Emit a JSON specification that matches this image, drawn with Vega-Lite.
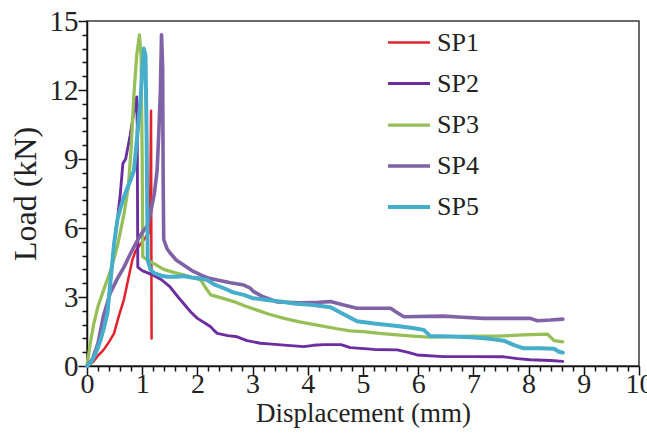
{
  "$schema": "https://vega.github.io/schema/vega-lite/v6.json",
  "autosize": "none",
  "width": 552,
  "height": 345,
  "padding": {"left": 87, "top": 21, "right": 8, "bottom": 73},
  "background": "white",
  "config": {
    "view": {"stroke": "#3a3a3a", "strokeWidth": 1.5},
    "font": "Liberation Serif"
  },
  "datasets": {
    "curves": [
      {"s":"SP1","i":1,"x":0,"y":0},{"s":"SP1","i":2,"x":0.1,"y":0.15},{"s":"SP1","i":3,"x":0.2,"y":0.45},{"s":"SP1","i":4,"x":0.3,"y":0.7},{"s":"SP1","i":5,"x":0.4,"y":1.05},{"s":"SP1","i":6,"x":0.49,"y":1.42},{"s":"SP1","i":7,"x":0.58,"y":2.2},{"s":"SP1","i":8,"x":0.67,"y":2.9},{"s":"SP1","i":9,"x":0.75,"y":3.8},{"s":"SP1","i":10,"x":0.82,"y":4.6},{"s":"SP1","i":11,"x":0.88,"y":5.0},{"s":"SP1","i":12,"x":1.0,"y":5.4},{"s":"SP1","i":13,"x":1.13,"y":5.8},{"s":"SP1","i":14,"x":1.15,"y":8},{"s":"SP1","i":15,"x":1.16,"y":11.1},{"s":"SP1","i":16,"x":1.17,"y":1.2},

      {"s":"SP2","i":1,"x":0,"y":0},{"s":"SP2","i":2,"x":0.1,"y":0.25},{"s":"SP2","i":3,"x":0.2,"y":0.8},{"s":"SP2","i":4,"x":0.3,"y":1.6},{"s":"SP2","i":5,"x":0.37,"y":2.3},{"s":"SP2","i":6,"x":0.43,"y":3.8},{"s":"SP2","i":7,"x":0.49,"y":5.3},{"s":"SP2","i":8,"x":0.55,"y":6.35},{"s":"SP2","i":9,"x":0.6,"y":7.4},{"s":"SP2","i":10,"x":0.65,"y":8.8},{"s":"SP2","i":11,"x":0.7,"y":9.0},{"s":"SP2","i":12,"x":0.78,"y":10.0},{"s":"SP2","i":13,"x":0.86,"y":11.2},{"s":"SP2","i":14,"x":0.9,"y":11.7},{"s":"SP2","i":15,"x":0.91,"y":10.5},{"s":"SP2","i":16,"x":0.92,"y":4.3},{"s":"SP2","i":17,"x":1.0,"y":4.15},{"s":"SP2","i":18,"x":1.2,"y":3.95},{"s":"SP2","i":19,"x":1.35,"y":3.75},{"s":"SP2","i":20,"x":1.5,"y":3.45},{"s":"SP2","i":21,"x":1.65,"y":3.0},{"s":"SP2","i":22,"x":1.75,"y":2.72},{"s":"SP2","i":23,"x":1.88,"y":2.35},{"s":"SP2","i":24,"x":2.0,"y":2.07},{"s":"SP2","i":25,"x":2.15,"y":1.85},{"s":"SP2","i":26,"x":2.24,"y":1.71},{"s":"SP2","i":27,"x":2.3,"y":1.55},{"s":"SP2","i":28,"x":2.36,"y":1.42},{"s":"SP2","i":29,"x":2.55,"y":1.32},{"s":"SP2","i":30,"x":2.72,"y":1.27},{"s":"SP2","i":31,"x":2.9,"y":1.1},{"s":"SP2","i":32,"x":3.14,"y":0.99},{"s":"SP2","i":33,"x":3.35,"y":0.95},{"s":"SP2","i":34,"x":3.57,"y":0.91},{"s":"SP2","i":35,"x":3.93,"y":0.84},{"s":"SP2","i":36,"x":4.1,"y":0.9},{"s":"SP2","i":37,"x":4.29,"y":0.93},{"s":"SP2","i":38,"x":4.6,"y":0.93},{"s":"SP2","i":39,"x":4.77,"y":0.8},{"s":"SP2","i":40,"x":5.2,"y":0.72},{"s":"SP2","i":41,"x":5.62,"y":0.7},{"s":"SP2","i":42,"x":5.8,"y":0.6},{"s":"SP2","i":43,"x":5.98,"y":0.48},{"s":"SP2","i":44,"x":6.46,"y":0.41},{"s":"SP2","i":45,"x":7.0,"y":0.41},{"s":"SP2","i":46,"x":7.55,"y":0.4},{"s":"SP2","i":47,"x":7.8,"y":0.32},{"s":"SP2","i":48,"x":8.03,"y":0.27},{"s":"SP2","i":49,"x":8.4,"y":0.24},{"s":"SP2","i":50,"x":8.62,"y":0.2},

      {"s":"SP3","i":1,"x":0,"y":0},{"s":"SP3","i":2,"x":0.06,"y":1.0},{"s":"SP3","i":3,"x":0.12,"y":1.8},{"s":"SP3","i":4,"x":0.2,"y":2.6},{"s":"SP3","i":5,"x":0.3,"y":3.3},{"s":"SP3","i":6,"x":0.43,"y":4.17},{"s":"SP3","i":7,"x":0.55,"y":5.2},{"s":"SP3","i":8,"x":0.67,"y":6.6},{"s":"SP3","i":9,"x":0.75,"y":7.8},{"s":"SP3","i":10,"x":0.8,"y":9.5},{"s":"SP3","i":11,"x":0.85,"y":11.8},{"s":"SP3","i":12,"x":0.9,"y":13.5},{"s":"SP3","i":13,"x":0.95,"y":14.4},{"s":"SP3","i":14,"x":0.98,"y":13.5},{"s":"SP3","i":15,"x":1.0,"y":9},{"s":"SP3","i":16,"x":1.01,"y":4.75},{"s":"SP3","i":17,"x":1.1,"y":4.6},{"s":"SP3","i":18,"x":1.25,"y":4.4},{"s":"SP3","i":19,"x":1.39,"y":4.2},{"s":"SP3","i":20,"x":1.6,"y":4.05},{"s":"SP3","i":21,"x":1.75,"y":3.96},{"s":"SP3","i":22,"x":1.9,"y":3.85},{"s":"SP3","i":23,"x":2.06,"y":3.74},{"s":"SP3","i":24,"x":2.15,"y":3.4},{"s":"SP3","i":25,"x":2.24,"y":3.09},{"s":"SP3","i":26,"x":2.45,"y":2.95},{"s":"SP3","i":27,"x":2.66,"y":2.8},{"s":"SP3","i":28,"x":2.85,"y":2.62},{"s":"SP3","i":29,"x":3.08,"y":2.43},{"s":"SP3","i":30,"x":3.3,"y":2.25},{"s":"SP3","i":31,"x":3.57,"y":2.07},{"s":"SP3","i":32,"x":3.85,"y":1.92},{"s":"SP3","i":33,"x":4.17,"y":1.78},{"s":"SP3","i":34,"x":4.53,"y":1.62},{"s":"SP3","i":35,"x":4.77,"y":1.53},{"s":"SP3","i":36,"x":5.01,"y":1.49},{"s":"SP3","i":37,"x":5.3,"y":1.42},{"s":"SP3","i":38,"x":5.62,"y":1.35},{"s":"SP3","i":39,"x":5.9,"y":1.3},{"s":"SP3","i":40,"x":6.22,"y":1.25},{"s":"SP3","i":41,"x":6.6,"y":1.28},{"s":"SP3","i":42,"x":7.0,"y":1.3},{"s":"SP3","i":43,"x":7.43,"y":1.3},{"s":"SP3","i":44,"x":7.9,"y":1.35},{"s":"SP3","i":45,"x":8.34,"y":1.39},{"s":"SP3","i":46,"x":8.42,"y":1.2},{"s":"SP3","i":47,"x":8.46,"y":1.1},{"s":"SP3","i":48,"x":8.62,"y":1.05},

      {"s":"SP4","i":1,"x":0,"y":0},{"s":"SP4","i":2,"x":0.1,"y":0.3},{"s":"SP4","i":3,"x":0.2,"y":1.0},{"s":"SP4","i":4,"x":0.3,"y":2.2},{"s":"SP4","i":5,"x":0.42,"y":3.16},{"s":"SP4","i":6,"x":0.55,"y":3.8},{"s":"SP4","i":7,"x":0.67,"y":4.3},{"s":"SP4","i":8,"x":0.79,"y":4.9},{"s":"SP4","i":9,"x":0.9,"y":5.4},{"s":"SP4","i":10,"x":1.0,"y":5.8},{"s":"SP4","i":11,"x":1.09,"y":6.1},{"s":"SP4","i":12,"x":1.15,"y":6.64},{"s":"SP4","i":13,"x":1.22,"y":7.5},{"s":"SP4","i":14,"x":1.27,"y":8.5},{"s":"SP4","i":15,"x":1.3,"y":10.1},{"s":"SP4","i":16,"x":1.33,"y":12},{"s":"SP4","i":17,"x":1.35,"y":14.4},{"s":"SP4","i":18,"x":1.37,"y":13},{"s":"SP4","i":19,"x":1.38,"y":8},{"s":"SP4","i":20,"x":1.39,"y":5.5},{"s":"SP4","i":21,"x":1.45,"y":5.1},{"s":"SP4","i":22,"x":1.51,"y":4.9},{"s":"SP4","i":23,"x":1.62,"y":4.6},{"s":"SP4","i":24,"x":1.75,"y":4.39},{"s":"SP4","i":25,"x":1.9,"y":4.15},{"s":"SP4","i":26,"x":2.06,"y":3.96},{"s":"SP4","i":27,"x":2.2,"y":3.82},{"s":"SP4","i":28,"x":2.36,"y":3.74},{"s":"SP4","i":29,"x":2.6,"y":3.62},{"s":"SP4","i":30,"x":2.84,"y":3.52},{"s":"SP4","i":31,"x":2.95,"y":3.4},{"s":"SP4","i":32,"x":3.02,"y":3.23},{"s":"SP4","i":33,"x":3.2,"y":3.0},{"s":"SP4","i":34,"x":3.45,"y":2.78},{"s":"SP4","i":35,"x":3.87,"y":2.75},{"s":"SP4","i":36,"x":4.2,"y":2.77},{"s":"SP4","i":37,"x":4.41,"y":2.8},{"s":"SP4","i":38,"x":4.65,"y":2.65},{"s":"SP4","i":39,"x":4.89,"y":2.51},{"s":"SP4","i":40,"x":5.5,"y":2.51},{"s":"SP4","i":41,"x":5.6,"y":2.35},{"s":"SP4","i":42,"x":5.74,"y":2.14},{"s":"SP4","i":43,"x":6.46,"y":2.17},{"s":"SP4","i":44,"x":6.8,"y":2.12},{"s":"SP4","i":45,"x":7.19,"y":2.07},{"s":"SP4","i":46,"x":8.03,"y":2.07},{"s":"SP4","i":47,"x":8.16,"y":1.97},{"s":"SP4","i":48,"x":8.4,"y":2.0},{"s":"SP4","i":49,"x":8.62,"y":2.04},

      {"s":"SP5","i":1,"x":0,"y":0},{"s":"SP5","i":2,"x":0.063,"y":0.13},{"s":"SP5","i":3,"x":0.15,"y":0.5},{"s":"SP5","i":4,"x":0.245,"y":1.13},{"s":"SP5","i":5,"x":0.3,"y":1.6},{"s":"SP5","i":6,"x":0.37,"y":2.3},{"s":"SP5","i":7,"x":0.43,"y":3.8},{"s":"SP5","i":8,"x":0.49,"y":5.3},{"s":"SP5","i":9,"x":0.55,"y":6.35},{"s":"SP5","i":10,"x":0.61,"y":6.9},{"s":"SP5","i":11,"x":0.67,"y":7.36},{"s":"SP5","i":12,"x":0.79,"y":8.1},{"s":"SP5","i":13,"x":0.85,"y":8.5},{"s":"SP5","i":14,"x":0.91,"y":10.0},{"s":"SP5","i":15,"x":0.97,"y":11.6},{"s":"SP5","i":16,"x":1.0,"y":12.8},{"s":"SP5","i":17,"x":1.03,"y":13.8},{"s":"SP5","i":18,"x":1.06,"y":13.5},{"s":"SP5","i":19,"x":1.08,"y":10},{"s":"SP5","i":20,"x":1.1,"y":4.6},{"s":"SP5","i":21,"x":1.15,"y":4.2},{"s":"SP5","i":22,"x":1.21,"y":4.05},{"s":"SP5","i":23,"x":1.35,"y":3.92},{"s":"SP5","i":24,"x":1.45,"y":3.88},{"s":"SP5","i":25,"x":1.63,"y":3.88},{"s":"SP5","i":26,"x":1.75,"y":3.91},{"s":"SP5","i":27,"x":1.9,"y":3.85},{"s":"SP5","i":28,"x":2.06,"y":3.8},{"s":"SP5","i":29,"x":2.18,"y":3.74},{"s":"SP5","i":30,"x":2.3,"y":3.55},{"s":"SP5","i":31,"x":2.48,"y":3.38},{"s":"SP5","i":32,"x":2.65,"y":3.2},{"s":"SP5","i":33,"x":2.84,"y":3.09},{"s":"SP5","i":34,"x":3.0,"y":2.95},{"s":"SP5","i":35,"x":3.26,"y":2.87},{"s":"SP5","i":36,"x":3.5,"y":2.8},{"s":"SP5","i":37,"x":3.75,"y":2.72},{"s":"SP5","i":38,"x":4.1,"y":2.65},{"s":"SP5","i":39,"x":4.41,"y":2.55},{"s":"SP5","i":40,"x":4.65,"y":2.25},{"s":"SP5","i":41,"x":4.89,"y":1.95},{"s":"SP5","i":42,"x":5.2,"y":1.85},{"s":"SP5","i":43,"x":5.62,"y":1.74},{"s":"SP5","i":44,"x":5.9,"y":1.65},{"s":"SP5","i":45,"x":6.1,"y":1.57},{"s":"SP5","i":46,"x":6.22,"y":1.3},{"s":"SP5","i":47,"x":6.6,"y":1.28},{"s":"SP5","i":48,"x":6.95,"y":1.25},{"s":"SP5","i":49,"x":7.3,"y":1.18},{"s":"SP5","i":50,"x":7.55,"y":1.1},{"s":"SP5","i":51,"x":7.75,"y":0.9},{"s":"SP5","i":52,"x":7.91,"y":0.77},{"s":"SP5","i":53,"x":8.2,"y":0.77},{"s":"SP5","i":54,"x":8.46,"y":0.75},{"s":"SP5","i":55,"x":8.55,"y":0.62},{"s":"SP5","i":56,"x":8.62,"y":0.58}
    ]
  },
  "data": {"name": "curves"},
  "mark": {"type": "line", "strokeCap": "round", "strokeJoin": "round"},
  "encoding": {
    "x": {
      "field": "x", "type": "quantitative",
      "scale": {"domain": [0, 10], "nice": false, "zero": false},
      "axis": {
        "title": "Displacement (mm)",
        "values": [0,0.2,0.4,0.6,0.8,1,1.2,1.4,1.6,1.8,2,2.2,2.4,2.6,2.8,3,3.2,3.4,3.6,3.8,4,4.2,4.4,4.6,4.8,5,5.2,5.4,5.6,5.8,6,6.2,6.4,6.6,6.8,7,7.2,7.4,7.6,7.8,8,8.2,8.4,8.6,8.8,9,9.2,9.4,9.6,9.8,10],
        "labelExpr": "abs(datum.value - round(datum.value)) < 0.001 ? '' + round(datum.value) : ''",
        "labelOverlap": false,
        "labelFlush": false,
        "grid": false,
        "tickSize": {"condition": {"test": "abs(datum.value - round(datum.value)) < 0.001", "value": 9}, "value": 5},
        "tickWidth": 1.5,
        "tickColor": "#111",
        "domainColor": "#111",
        "domainWidth": 1.5,
        "labelFont": "Liberation Serif",
        "labelFontSize": 28,
        "labelColor": "#222",
        "labelPadding": -5,
        "titleFont": "Liberation Serif",
        "titleFontSize": 27,
        "titleFontWeight": "normal",
        "titleColor": "#222",
        "titlePadding": 2
      }
    },
    "y": {
      "field": "y", "type": "quantitative",
      "scale": {"domain": [0, 15], "nice": false},
      "axis": {
        "title": "Load (kN)",
        "values": [0,0.6,1.2,1.8,2.4,3,3.6,4.2,4.8,5.4,6,6.6,7.2,7.8,8.4,9,9.6,10.2,10.8,11.4,12,12.6,13.2,13.8,14.4,15],
        "labelExpr": "abs(datum.value/3 - round(datum.value/3)) < 0.001 ? '' + round(datum.value) : ''",
        "labelOverlap": false,
        "labelFlush": false,
        "grid": false,
        "tickSize": {"condition": {"test": "abs(datum.value/3 - round(datum.value/3)) < 0.001", "value": 9}, "value": 5},
        "tickWidth": 1.5,
        "tickColor": "#111",
        "domainColor": "#111",
        "domainWidth": 1.5,
        "labelFont": "Liberation Serif",
        "labelFontSize": 29,
        "labelColor": "#222",
        "labelPadding": 0,
        "titleFont": "Liberation Serif",
        "titleFontSize": 32,
        "titleFontWeight": "normal",
        "titleColor": "#222",
        "titlePadding": 7
      }
    },
    "color": {
      "field": "s", "type": "nominal",
      "scale": {"domain": ["SP1","SP2","SP3","SP4","SP5"], "range": ["#e3202b","#6c2e9e","#97bf58","#8063a7","#46adca"]},
      "legend": {
        "title": null,
        "orient": "none",
        "legendX": 299,
        "legendY": -1,
        "padding": 0,
        "symbolType": "stroke",
        "symbolSize": 1764,
        "symbolStrokeWidth": 4,
        "rowPadding": 5,
        "labelFont": "Liberation Serif",
        "labelFontSize": 26,
        "labelColor": "#222",
        "labelOffset": 5
      }
    },
    "strokeWidth": {
      "field": "s", "type": "nominal",
      "scale": {"domain": ["SP1","SP2","SP3","SP4","SP5"], "range": [2.5, 4, 4, 4, 4]},
      "legend": null
    },
    "order": {"field": "i", "type": "quantitative"}
  }
}
